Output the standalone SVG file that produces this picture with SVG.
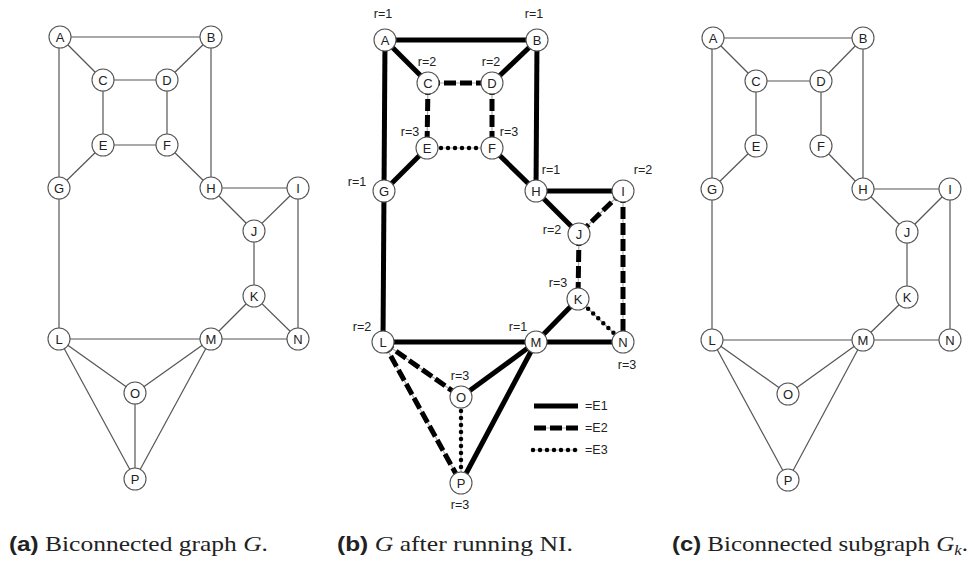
<svg xmlns="http://www.w3.org/2000/svg" width="971" height="561" viewBox="0 0 971 561">
<style>
.e{stroke:#555;stroke-width:1.2;fill:none}
.n circle{fill:#fff;stroke:#555;stroke-width:1.1}
.n text{font-family:"Liberation Sans",Arial,sans-serif;font-size:13px;fill:#222;text-anchor:middle;dominant-baseline:central}
.e1{stroke:#000;stroke-width:5;fill:none}
.base{stroke:#aaa;stroke-width:1.2;fill:none}
.e2{stroke:#000;stroke-width:5;fill:none;stroke-dasharray:12 4}
.e3{stroke:#000;stroke-width:4.5;fill:none;stroke-dasharray:0 7;stroke-linecap:round}
.r{font-family:"Liberation Sans",Arial,sans-serif;font-size:12.5px;fill:#222;text-anchor:middle}
.rl{font-family:"Liberation Sans",Arial,sans-serif;font-size:12.5px;fill:#222;text-anchor:start}
.cap{font-family:"Liberation Serif","DejaVu Serif",serif;font-size:21px;fill:#222}
.lab{font-family:"Liberation Sans",Arial,sans-serif;font-weight:bold;font-size:20px}
</style>

<!-- Panel A edges -->
<g id="connectors-a">
<line class="e" x1="60" y1="37" x2="211" y2="37"/>
<line class="e" x1="60" y1="37" x2="103" y2="80"/>
<line class="e" x1="211" y1="37" x2="167" y2="80"/>
<line class="e" x1="103" y1="80" x2="167" y2="80"/>
<line class="e" x1="103" y1="80" x2="103" y2="145"/>
<line class="e" x1="167" y1="80" x2="167" y2="145"/>
<line class="e" x1="103" y1="145" x2="167" y2="145"/>
<line class="e" x1="103" y1="145" x2="59" y2="188"/>
<line class="e" x1="167" y1="145" x2="211" y2="188"/>
<line class="e" x1="59" y1="37" x2="59" y2="188"/>
<line class="e" x1="211" y1="37" x2="211" y2="188"/>
<line class="e" x1="211" y1="188" x2="298" y2="188"/>
<line class="e" x1="211" y1="188" x2="254" y2="231"/>
<line class="e" x1="298" y1="188" x2="254" y2="231"/>
<line class="e" x1="254" y1="231" x2="254" y2="296"/>
<line class="e" x1="298" y1="188" x2="298" y2="339"/>
<line class="e" x1="254" y1="296" x2="211" y2="339"/>
<line class="e" x1="254" y1="296" x2="298" y2="339"/>
<line class="e" x1="59" y1="188" x2="59" y2="339"/>
<line class="e" x1="59" y1="339" x2="211" y2="339"/>
<line class="e" x1="211" y1="339" x2="298" y2="339"/>
<line class="e" x1="59" y1="339" x2="135" y2="393"/>
<line class="e" x1="211" y1="339" x2="135" y2="393"/>
<line class="e" x1="135" y1="393" x2="135" y2="479"/>
<line class="e" x1="59" y1="339" x2="135" y2="479"/>
<line class="e" x1="211" y1="339" x2="135" y2="479"/>
</g>
<g class="n" id="a-A"><circle cx="60" cy="37" r="11"/><text x="60" y="37">A</text></g>
<g class="n" id="a-B"><circle cx="211" cy="37" r="11"/><text x="211" y="37">B</text></g>
<g class="n" id="a-C"><circle cx="103" cy="80" r="11"/><text x="103" y="80">C</text></g>
<g class="n" id="a-D"><circle cx="167" cy="80" r="11"/><text x="167" y="80">D</text></g>
<g class="n" id="a-E"><circle cx="103" cy="145" r="11"/><text x="103" y="145">E</text></g>
<g class="n" id="a-F"><circle cx="167" cy="145" r="11"/><text x="167" y="145">F</text></g>
<g class="n" id="a-G"><circle cx="59" cy="188" r="11"/><text x="59" y="188">G</text></g>
<g class="n" id="a-H"><circle cx="211" cy="188" r="11"/><text x="211" y="188">H</text></g>
<g class="n" id="a-I"><circle cx="298" cy="188" r="11"/><text x="298" y="188">I</text></g>
<g class="n" id="a-J"><circle cx="254" cy="231" r="11"/><text x="254" y="231">J</text></g>
<g class="n" id="a-K"><circle cx="254" cy="296" r="11"/><text x="254" y="296">K</text></g>
<g class="n" id="a-L"><circle cx="59" cy="339" r="11"/><text x="59" y="339">L</text></g>
<g class="n" id="a-M"><circle cx="211" cy="339" r="11"/><text x="211" y="339">M</text></g>
<g class="n" id="a-N"><circle cx="298" cy="339" r="11"/><text x="298" y="339">N</text></g>
<g class="n" id="a-O"><circle cx="135" cy="393" r="11"/><text x="135" y="393">O</text></g>
<g class="n" id="a-P"><circle cx="135" cy="479" r="11"/><text x="135" y="479">P</text></g>

<!-- Panel B edges -->
<g id="connectors-b">
<line class="e1" x1="385" y1="40" x2="537" y2="40"/>
<line class="e1" x1="385" y1="40" x2="428" y2="83"/>
<line class="e1" x1="537" y1="40" x2="492" y2="83"/>
<line class="base" x1="428" y1="83" x2="492" y2="83"/><line class="e2" x1="428" y1="83" x2="492" y2="83"/>
<line class="base" x1="428" y1="83" x2="427" y2="148"/><line class="e2" x1="428" y1="83" x2="427" y2="148"/>
<line class="base" x1="492" y1="83" x2="492" y2="148"/><line class="e2" x1="492" y1="83" x2="492" y2="148"/>
<line class="base" x1="427" y1="148" x2="492" y2="148"/><line class="e3" x1="427" y1="148" x2="492" y2="148"/>
<line class="e1" x1="427" y1="148" x2="384" y2="191"/>
<line class="e1" x1="492" y1="148" x2="536" y2="191"/>
<line class="e1" x1="385" y1="40" x2="384" y2="191"/>
<line class="e1" x1="537" y1="40" x2="536" y2="191"/>
<line class="e1" x1="536" y1="191" x2="623" y2="191"/>
<line class="e1" x1="536" y1="191" x2="579" y2="234"/>
<line class="base" x1="623" y1="191" x2="579" y2="234"/><line class="e2" x1="623" y1="191" x2="579" y2="234"/>
<line class="base" x1="579" y1="234" x2="578" y2="299"/><line class="e2" x1="579" y1="234" x2="578" y2="299"/>
<line class="base" x1="623" y1="191" x2="623" y2="342"/><line class="e2" x1="623" y1="191" x2="623" y2="342"/>
<line class="e1" x1="578" y1="299" x2="536" y2="342"/>
<line class="base" x1="578" y1="299" x2="623" y2="342"/><line class="e3" x1="578" y1="299" x2="623" y2="342"/>
<line class="e1" x1="384" y1="191" x2="383" y2="342"/>
<line class="e1" x1="383" y1="342" x2="536" y2="342"/>
<line class="e1" x1="536" y1="342" x2="623" y2="342"/>
<line class="base" x1="383" y1="342" x2="461" y2="397"/><line class="e2" x1="383" y1="342" x2="461" y2="397"/>
<line class="e1" x1="536" y1="342" x2="461" y2="397"/>
<line class="base" x1="461" y1="397" x2="461" y2="483"/><line class="e3" x1="461" y1="397" x2="461" y2="483"/>
<line class="base" x1="383" y1="342" x2="461" y2="483"/><line class="e2" x1="383" y1="342" x2="461" y2="483"/>
<line class="e1" x1="536" y1="342" x2="461" y2="483"/>
</g>
<g class="n" id="b-A"><circle cx="385" cy="40" r="11"/><text x="385" y="40">A</text></g>
<g class="n" id="b-B"><circle cx="537" cy="40" r="11"/><text x="537" y="40">B</text></g>
<g class="n" id="b-C"><circle cx="428" cy="83" r="11"/><text x="428" y="83">C</text></g>
<g class="n" id="b-D"><circle cx="492" cy="83" r="11"/><text x="492" y="83">D</text></g>
<g class="n" id="b-E"><circle cx="427" cy="148" r="11"/><text x="427" y="148">E</text></g>
<g class="n" id="b-F"><circle cx="492" cy="148" r="11"/><text x="492" y="148">F</text></g>
<g class="n" id="b-G"><circle cx="384" cy="191" r="11"/><text x="384" y="191">G</text></g>
<g class="n" id="b-H"><circle cx="536" cy="191" r="11"/><text x="536" y="191">H</text></g>
<g class="n" id="b-I"><circle cx="623" cy="191" r="11"/><text x="623" y="191">I</text></g>
<g class="n" id="b-J"><circle cx="579" cy="234" r="11"/><text x="579" y="234">J</text></g>
<g class="n" id="b-K"><circle cx="578" cy="299" r="11"/><text x="578" y="299">K</text></g>
<g class="n" id="b-L"><circle cx="383" cy="342" r="11"/><text x="383" y="342">L</text></g>
<g class="n" id="b-M"><circle cx="536" cy="342" r="11"/><text x="536" y="342">M</text></g>
<g class="n" id="b-N"><circle cx="623" cy="342" r="11"/><text x="623" y="342">N</text></g>
<g class="n" id="b-O"><circle cx="461" cy="397" r="11"/><text x="461" y="397">O</text></g>
<g class="n" id="b-P"><circle cx="461" cy="483" r="11"/><text x="461" y="483">P</text></g>

<g id="rank-labels">
<text class="r" x="383" y="18">r=1</text>
<text class="r" x="534" y="18">r=1</text>
<text class="r" x="427" y="66">r=2</text>
<text class="r" x="491" y="66">r=2</text>
<text class="r" x="410" y="136">r=3</text>
<text class="r" x="509" y="136">r=3</text>
<text class="r" x="357" y="186">r=1</text>
<text class="r" x="551" y="174">r=1</text>
<text class="r" x="643" y="174">r=2</text>
<text class="r" x="552" y="234">r=2</text>
<text class="r" x="558" y="287">r=3</text>
<text class="r" x="362" y="331">r=2</text>
<text class="r" x="518" y="331">r=1</text>
<text class="r" x="627" y="369">r=3</text>
<text class="r" x="460" y="380">r=3</text>
<text class="r" x="460" y="509">r=3</text>
</g>

<g id="legend">
<line class="e1" x1="534" y1="406" x2="578" y2="406"/>
<line class="base" x1="534" y1="428" x2="578" y2="428"/><line class="e2" x1="534" y1="428" x2="578" y2="428"/>
<line class="base" x1="533" y1="450" x2="578" y2="450"/><line class="e3" x1="533" y1="450" x2="578" y2="450"/>
<text class="rl" x="585" y="410">=E1</text>
<text class="rl" x="585" y="432">=E2</text>
<text class="rl" x="585" y="454">=E3</text>
</g>

<!-- Panel C edges -->
<g id="connectors-c">
<line class="e" x1="713" y1="38" x2="863" y2="38"/>
<line class="e" x1="713" y1="38" x2="756" y2="81"/>
<line class="e" x1="863" y1="38" x2="821" y2="81"/>
<line class="e" x1="756" y1="81" x2="821" y2="81"/>
<line class="e" x1="756" y1="81" x2="756" y2="146"/>
<line class="e" x1="821" y1="81" x2="821" y2="146"/>
<line class="e" x1="756" y1="146" x2="712" y2="189"/>
<line class="e" x1="821" y1="146" x2="863" y2="189"/>
<line class="e" x1="712" y1="38" x2="712" y2="189"/>
<line class="e" x1="863" y1="38" x2="863" y2="189"/>
<line class="e" x1="863" y1="189" x2="950" y2="189"/>
<line class="e" x1="863" y1="189" x2="907" y2="232"/>
<line class="e" x1="950" y1="189" x2="907" y2="232"/>
<line class="e" x1="907" y1="232" x2="907" y2="297"/>
<line class="e" x1="950" y1="189" x2="950" y2="340"/>
<line class="e" x1="907" y1="297" x2="863" y2="340"/>
<line class="e" x1="712" y1="189" x2="712" y2="340"/>
<line class="e" x1="712" y1="340" x2="863" y2="340"/>
<line class="e" x1="863" y1="340" x2="950" y2="340"/>
<line class="e" x1="712" y1="340" x2="788" y2="394"/>
<line class="e" x1="863" y1="340" x2="788" y2="394"/>
<line class="e" x1="712" y1="340" x2="788" y2="480"/>
<line class="e" x1="863" y1="340" x2="788" y2="480"/>
</g>
<g class="n" id="c-A"><circle cx="713" cy="38" r="11"/><text x="713" y="38">A</text></g>
<g class="n" id="c-B"><circle cx="863" cy="38" r="11"/><text x="863" y="38">B</text></g>
<g class="n" id="c-C"><circle cx="756" cy="81" r="11"/><text x="756" y="81">C</text></g>
<g class="n" id="c-D"><circle cx="821" cy="81" r="11"/><text x="821" y="81">D</text></g>
<g class="n" id="c-E"><circle cx="756" cy="146" r="11"/><text x="756" y="146">E</text></g>
<g class="n" id="c-F"><circle cx="821" cy="146" r="11"/><text x="821" y="146">F</text></g>
<g class="n" id="c-G"><circle cx="712" cy="189" r="11"/><text x="712" y="189">G</text></g>
<g class="n" id="c-H"><circle cx="863" cy="189" r="11"/><text x="863" y="189">H</text></g>
<g class="n" id="c-I"><circle cx="950" cy="189" r="11"/><text x="950" y="189">I</text></g>
<g class="n" id="c-J"><circle cx="907" cy="232" r="11"/><text x="907" y="232">J</text></g>
<g class="n" id="c-K"><circle cx="907" cy="297" r="11"/><text x="907" y="297">K</text></g>
<g class="n" id="c-L"><circle cx="712" cy="340" r="11"/><text x="712" y="340">L</text></g>
<g class="n" id="c-M"><circle cx="863" cy="340" r="11"/><text x="863" y="340">M</text></g>
<g class="n" id="c-N"><circle cx="950" cy="340" r="11"/><text x="950" y="340">N</text></g>
<g class="n" id="c-O"><circle cx="788" cy="394" r="11"/><text x="788" y="394">O</text></g>
<g class="n" id="c-P"><circle cx="788" cy="480" r="11"/><text x="788" y="480">P</text></g>

<g id="captions">
<text class="cap" x="9" y="551" textLength="259" lengthAdjust="spacingAndGlyphs"><tspan class="lab">(a)</tspan> Biconnected graph <tspan font-style="italic">G</tspan>.</text>
<text class="cap" x="337" y="551" textLength="236" lengthAdjust="spacingAndGlyphs"><tspan class="lab">(b)</tspan> <tspan font-style="italic">G</tspan> after running NI.</text>
<text class="cap" x="672" y="551" textLength="296" lengthAdjust="spacingAndGlyphs"><tspan class="lab">(c)</tspan> Biconnected subgraph <tspan font-style="italic">G</tspan><tspan font-style="italic" font-size="14" dy="4">k</tspan><tspan dy="-4">.</tspan></text>
</g>
</svg>
